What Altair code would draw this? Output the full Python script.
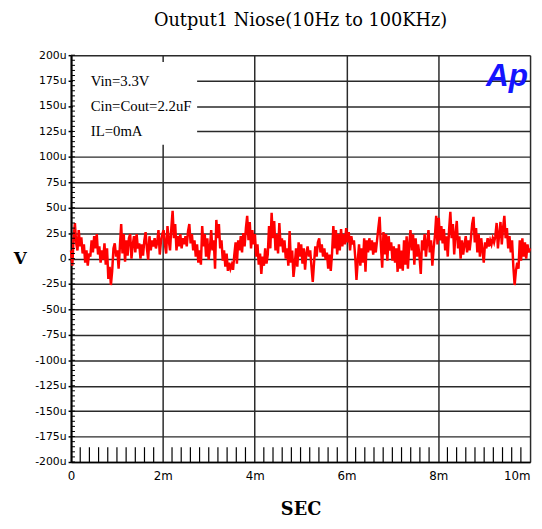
import altair as alt
import numpy as np
import pandas as pd

TITLE = "Output1 Niose(10Hz to 100KHz)"
X_TITLE = "SEC"
Y_TITLE = "V"
ANNOT_TEXT = ["Vin=3.3V", "Cin=Cout=2.2uF", "IL=0mA"]
ANNOT_LEVEL = [175, 150, 125]

Y_TICKS = list(range(-200, 201, 25))
Y_MINOR = list(range(-200, 201, 5))
X_TICKS = [0, 2, 4, 6, 8, 10]
X_MINOR = [0.2, 0.4, 0.6, 0.8, 1.0, 1.2, 1.4, 1.6, 1.8,
           2.2, 2.4, 2.6, 2.8, 3.0, 3.2, 3.4, 3.6, 3.8,
           4.2, 4.4, 4.6, 4.8, 5.0, 5.2, 5.4, 5.6, 5.8,
           6.2, 6.4, 6.6, 6.8, 7.0, 7.2, 7.4, 7.6, 7.8,
           8.2, 8.4, 8.6, 8.8, 9.0, 9.2, 9.4, 9.6, 9.8]

# noise trace (uV) from left to right
NOISE_A = [8, -7, 20, 35, 15, 8, 28, 12, 21, 5, 14, -4, 8, -7, 5, 2, 18, 6, 22, 10,
           24, 4, 12, -4, 8, -1, 15, -6, 10, -20, -8, -26, -12, 10, 15, 2, 8, -10, 12, 34,
           5, 24, -3, 18, 3, 20, 24, 0, 14, 22, 6, 24, 10, 15, 0, 14, 3, 18, 26, 10,
           -1, 22, 8, 18, 12, 20, 10, 16, 28, 4, 18, 24, 28, 14, 5, 32, 18, 8, 30, 47,
           20, 34, 8, 22, 12, 24, 10, 20, 14]
NOISE_B = [22, 12, 27, 34, 15, 24, 8, 18, 2, 14, -4, 8, -6, 32, 12, 24, 2, 20, -1, 10,
           28, 8, 18, -10, 38, 20, 34, 10, 18, -2, 8, -8, 5, -12, -4, -10, -6, -11, 4, 16,
           -5, 18, 8, 22, 6, 25, 12, 30, 42, 18, 36, 10, 28, 14, 24, 2, 14, -6, 5, -15,
           2, -7, 10, -5, 4, 32, 10, 45, 20, 37, 8, 24, 5, 35, 12, 20, 6, 18, 0, 10,
           -7, 27, -4, 8, -18, -6, 10, -8, 16, 2]
NOISE_C = [14, -5, 10, -11, 5, 12, 2, 8, -8, -23, -4, 12, 2, 16, 20, 6, 14, 2, 10, -1,
           6, -10, 4, -12, 5, 32, 10, 28, 4, 24, 8, 29, 12, 24, 14, 30, 16, 26, 8, 22,
           14, 18, 2, -21, -2, 14, -7, 10, -4, 20, -13, 18, 6, 20, 8, 18, 4, 16, 6, 18,
           30, 41, 12, -9, 26, 4, 24, -2, 22, 8, 16, -2, 12, -4, 10, -13, 14, -10, 8, -12,
           18, -6, 22, -10, 14, 28, 8, 24, -6, 20, 2]
NOISE_D = [14, 2, -15, 18, 8, 24, 2, 16, 28, 6, 18, -7, 10, 22, 42, 14, 40, 18, 32, 15,
           29, 8, 22, 2, 28, 46, 20, 34, 4, 24, 37, 10, 22, 0, 18, 4, 14, 22, 6, 18,
           8, 20, 34, 41, 16, 30, 6, 24, 2, 20, 8, -4, 16, 10, 20, 12, 18, 14, 20, 16,
           22, 35, 10, 24, 36, 14, 30, 42, 20, 30, 10, 22, 6, 18, -8, -26, -12, -4, -10, 18,
           -2, 20, 2, 16, 0, 14, 6, 10]

noise = NOISE_A + NOISE_B + NOISE_C + NOISE_D
trace = pd.DataFrame({"t": np.linspace(0, 10, len(noise)), "v": noise})

W, H = 466, 413
GRID = "#2a2a2a"

x_enc = alt.X(
    "t:Q",
    scale=alt.Scale(domain=[0, 10], nice=False, zero=False),
    axis=alt.Axis(
        values=X_TICKS,
        labelExpr="datum.value == 0 ? '0' : datum.value + 'm'",
        labelAlign=alt.condition("datum.value == 10", alt.value("right"), alt.value("center")),
        ticks=False,
        grid=True, gridColor=GRID, gridWidth=1.5,
        domainColor="black", domainWidth=1.5,
        labelFont="Liberation Sans Narrow, Arial Narrow, DejaVu Sans",
        labelFontSize=12, labelColor="black", labelPadding=9,
        title=X_TITLE, titleFont="DejaVu Serif", titleFontSize=18,
        titleFontWeight="bold", titleColor="black",
        titleX=233, titleY=48, titleAlign="center", titleBaseline="middle",
    ),
)
y_enc = alt.Y(
    "v:Q",
    scale=alt.Scale(domain=[-200, 200], nice=False, zero=False),
    axis=alt.Axis(
        values=Y_TICKS,
        labelExpr="datum.value == 0 ? '0' : datum.value + 'u'",
        tickSize=3, tickColor="black", tickWidth=1.5,
        grid=True, gridColor=GRID, gridWidth=1.5,
        domainColor="black", domainWidth=2,
        labelFont="Liberation Sans Narrow, Arial Narrow, DejaVu Sans",
        labelFontSize=11, labelColor="black", labelPadding=2,
        title=Y_TITLE, titleAngle=0, titleFont="DejaVu Serif", titleFontSize=17,
        titleFontWeight="bold", titleColor="black",
        titleX=-52, titleY=206, titleAlign="center", titleBaseline="middle",
    ),
)

box = alt.Chart(pd.DataFrame({"k": [0]})).mark_rect(color="white").encode(
    x=alt.value(2), x2=alt.value(128), y=alt.value(7), y2=alt.value(91)
)

annot = alt.Chart(pd.DataFrame({"label": ANNOT_TEXT, "v": ANNOT_LEVEL})).mark_text(
    align="left", baseline="middle", font="Liberation Serif", fontSize=15, color="black"
).encode(x=alt.value(20), y=y_enc, text="label:N")

y_minor = alt.Chart(pd.DataFrame({"v": Y_MINOR})).mark_rule(color="black", strokeWidth=1).encode(
    y=y_enc, x=alt.value(0), x2=alt.value(4)
)
x_minor = alt.Chart(pd.DataFrame({"t": X_MINOR})).mark_rule(color="black", strokeWidth=1.2).encode(
    x=x_enc, y=alt.value(H), y2=alt.value(H - 15)
)

line = alt.Chart(trace).mark_line(color="#ff0000", strokeWidth=2.5).encode(
    x=x_enc, y=y_enc
)

logo = alt.Chart(pd.DataFrame({"k": [0]})).mark_text(
    text="Ap", font="Liberation Sans", fontStyle="italic", fontWeight="bold",
    fontSize=32, color="#1414ff", align="right", baseline="alphabetic"
).encode(x=alt.value(464), y=alt.value(31))

chart = alt.layer(line, box, annot, y_minor, x_minor, logo).properties(
    width=W, height=H,
    title=alt.TitleParams(TITLE, font="DejaVu Serif", fontSize=18, fontWeight="normal",
                          color="black", anchor="middle", offset=20),
    autosize=alt.AutoSizeParams(type="none"),
    padding={"left": 64, "top": 44, "right": 4, "bottom": 56},
).configure_view(stroke="black", strokeWidth=1.2).configure(background="white")

chart.save("out.html", embed_options={"renderer": "svg", "actions": False})
